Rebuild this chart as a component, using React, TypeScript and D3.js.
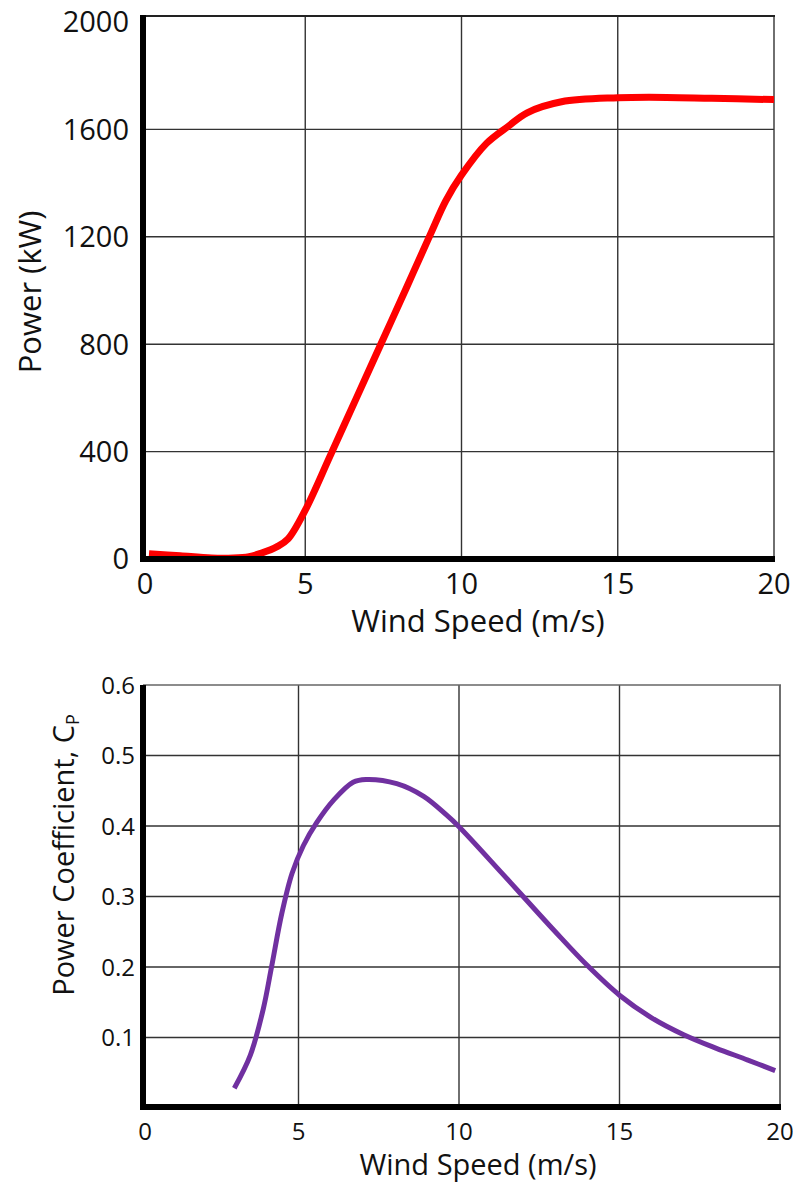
import React, { useRef, useEffect } from 'react';
import * as d3 from 'd3';

// power curve (kW) vs wind speed (m/s)
const powerSpeed = [0, 1, 2, 2.7, 3.2, 3.6, 4.1, 4.45, 5, 5.8, 6.65, 7.45, 8.26, 9, 9.5, 10, 10.8, 11.5, 12.1, 13.2, 15, 16, 18, 20];
const powerKW = [20, 12, 4, 4, 9, 22, 46, 75, 182, 385, 603, 808, 1016, 1208, 1335, 1430, 1548, 1612, 1662, 1703, 1718, 1720, 1716, 1711];

// power coefficient vs wind speed
const cpSpeed = [3, 3.5, 3.9, 4.16, 4.48, 4.8, 5.15, 5.57, 6.1, 6.7, 7.1, 8.06, 8.9, 9.6, 10, 11.3, 11.9, 13, 14, 15, 16, 17, 18, 19, 19.85];
const cpValue = [0.028, 0.075, 0.14, 0.2, 0.276, 0.333, 0.372, 0.405, 0.437, 0.462, 0.466, 0.46, 0.442, 0.416, 0.399, 0.335, 0.305, 0.25, 0.202, 0.16, 0.128, 0.104, 0.085, 0.068, 0.053];

const xTicks = [0, 5, 10, 15, 20];
const powerTicks = [0, 400, 800, 1200, 1600, 2000];
const cpTicks = [0.1, 0.2, 0.3, 0.4, 0.5, 0.6];

const FONT = '"Open Sans", sans-serif';

export default function App() {
  const ref = useRef<SVGSVGElement>(null);
  const width = 793;
  const height = 1182;

  useEffect(() => {
    const svg = d3.select(ref.current);
    svg.selectAll('*').remove();

    //----------- top chart: power ------------//
    const x1 = d3.scaleLinear().domain([0, 20]).range([149, 774]);
    const y1 = d3.scaleLinear().domain([0, 2000]).range([559, 22]);
    const top1 = 16;
    const g1 = svg.append('g');

    g1.selectAll('line.h')
      .data(powerTicks.filter(d => d > 0 && d < 2000))
      .join('line')
      .attr('x1', 143).attr('x2', x1(20))
      .attr('y1', d => y1(d)).attr('y2', d => y1(d))
      .attr('stroke', '#333').attr('stroke-width', 1.4);
    g1.selectAll('line.v')
      .data(xTicks.filter(d => d > 0))
      .join('line')
      .attr('x1', d => x1(d)).attr('x2', d => x1(d))
      .attr('y1', top1).attr('y2', y1(0))
      .attr('stroke', '#333').attr('stroke-width', 1.4);
    g1.append('line')
      .attr('x1', 143).attr('x2', x1(20) + 1)
      .attr('y1', top1).attr('y2', top1)
      .attr('stroke', '#222').attr('stroke-width', 2.2);

    const powerLine = d3.line<number>()
      .x((d, i) => x1(powerSpeed[i]))
      .y(d => y1(d))
      .curve(d3.curveCatmullRom.alpha(0.5));
    g1.append('path')
      .attr('d', powerLine(powerKW))
      .attr('fill', 'none')
      .attr('stroke', '#ff0000')
      .attr('stroke-width', 7)
      .attr('stroke-linejoin', 'round');

    // thick axes
    g1.append('line')
      .attr('x1', 143).attr('x2', 143)
      .attr('y1', top1 - 1).attr('y2', y1(0) + 3)
      .attr('stroke', '#000').attr('stroke-width', 6);
    g1.append('line')
      .attr('x1', 140).attr('x2', x1(20) + 1)
      .attr('y1', y1(0)).attr('y2', y1(0))
      .attr('stroke', '#000').attr('stroke-width', 6);

    g1.selectAll('text.yt')
      .data(powerTicks)
      .join('text')
      .attr('x', 129).attr('y', d => y1(d))
      .attr('dy', '0.36em')
      .attr('text-anchor', 'end')
      .style('font-family', FONT).style('font-size', '29px')
      .attr('fill', '#111')
      .text(d => d);
    g1.selectAll('text.xt')
      .data(xTicks)
      .join('text')
      .attr('x', d => d === 0 ? 145 : x1(d)).attr('y', 584)
      .attr('dy', '0.36em')
      .attr('text-anchor', 'middle')
      .style('font-family', FONT).style('font-size', '29px')
      .attr('fill', '#111')
      .text(d => d);
    g1.append('text')
      .attr('x', 478).attr('y', 621)
      .attr('dy', '0.36em')
      .attr('text-anchor', 'middle')
      .style('font-family', FONT).style('font-size', '31px')
      .attr('fill', '#111')
      .text('Wind Speed (m/s)');
    g1.append('text')
      .attr('transform', `translate(30,${292}) rotate(-90)`)
      .attr('dy', '0.36em')
      .attr('text-anchor', 'middle')
      .style('font-family', FONT).style('font-size', '31px')
      .attr('fill', '#111')
      .text('Power (kW)');

    //----------- bottom chart: power coefficient ------------//
    const x2 = d3.scaleLinear().domain([0, 20]).range([138, 780]);
    const y2 = d3.scaleLinear().domain([0, 0.6]).range([1108, 685]);
    const g2 = svg.append('g');

    g2.selectAll('line.h')
      .data(cpTicks.filter(d => d < 0.6))
      .join('line')
      .attr('x1', 143).attr('x2', x2(20))
      .attr('y1', d => y2(d)).attr('y2', d => y2(d))
      .attr('stroke', '#333').attr('stroke-width', 1.4);
    g2.selectAll('line.v')
      .data(xTicks.filter(d => d > 0))
      .join('line')
      .attr('x1', d => x2(d)).attr('x2', d => x2(d))
      .attr('y1', y2(0.6)).attr('y2', y2(0))
      .attr('stroke', '#333').attr('stroke-width', 1.4);
    g2.append('line')
      .attr('x1', 143).attr('x2', x2(20) + 1)
      .attr('y1', y2(0.6)).attr('y2', y2(0.6))
      .attr('stroke', '#666').attr('stroke-width', 1.6);

    const cpLine = d3.line<number>()
      .x((d, i) => x2(cpSpeed[i]))
      .y(d => y2(d))
      .curve(d3.curveCatmullRom.alpha(0.5));
    g2.append('path')
      .attr('d', cpLine(cpValue))
      .attr('fill', 'none')
      .attr('stroke', '#7030a0')
      .attr('stroke-width', 5);

    g2.append('line')
      .attr('x1', 143).attr('x2', 143)
      .attr('y1', y2(0.6)).attr('y2', y2(0) + 2)
      .attr('stroke', '#000').attr('stroke-width', 6);
    g2.append('line')
      .attr('x1', 140).attr('x2', x2(20) + 1)
      .attr('y1', y2(0) - 1).attr('y2', y2(0) - 1)
      .attr('stroke', '#000').attr('stroke-width', 6);

    g2.selectAll('text.yt')
      .data(cpTicks)
      .join('text')
      .attr('x', 135).attr('y', d => y2(d))
      .attr('dy', '0.36em')
      .attr('text-anchor', 'end')
      .style('font-family', FONT).style('font-size', '24px')
      .attr('fill', '#111')
      .text(d => d.toFixed(1));
    g2.selectAll('text.xt')
      .data(xTicks)
      .join('text')
      .attr('x', d => d === 0 ? 145 : x2(d)).attr('y', 1131)
      .attr('dy', '0.36em')
      .attr('text-anchor', 'middle')
      .style('font-family', FONT).style('font-size', '24px')
      .attr('fill', '#111')
      .text(d => d);
    g2.append('text')
      .attr('x', 478).attr('y', 1165)
      .attr('dy', '0.36em')
      .attr('text-anchor', 'middle')
      .style('font-family', FONT).style('font-size', '29px')
      .attr('fill', '#111')
      .text('Wind Speed (m/s)');
    const yt = g2.append('text')
      .attr('transform', `translate(64,${855}) rotate(-90)`)
      .attr('dy', '0.36em')
      .attr('text-anchor', 'middle')
      .style('font-family', FONT).style('font-size', '29px')
      .attr('fill', '#111');
    yt.append('tspan').text('Power Coefficient, C');
    yt.append('tspan').attr('dy', '5').style('font-size', '18px').text('P');
  }, []);

  return (
    <svg ref={ref} width={width} height={height}
      style={{ position: 'absolute', left: 0, top: 0, background: '#fff' }} />
  );
}
